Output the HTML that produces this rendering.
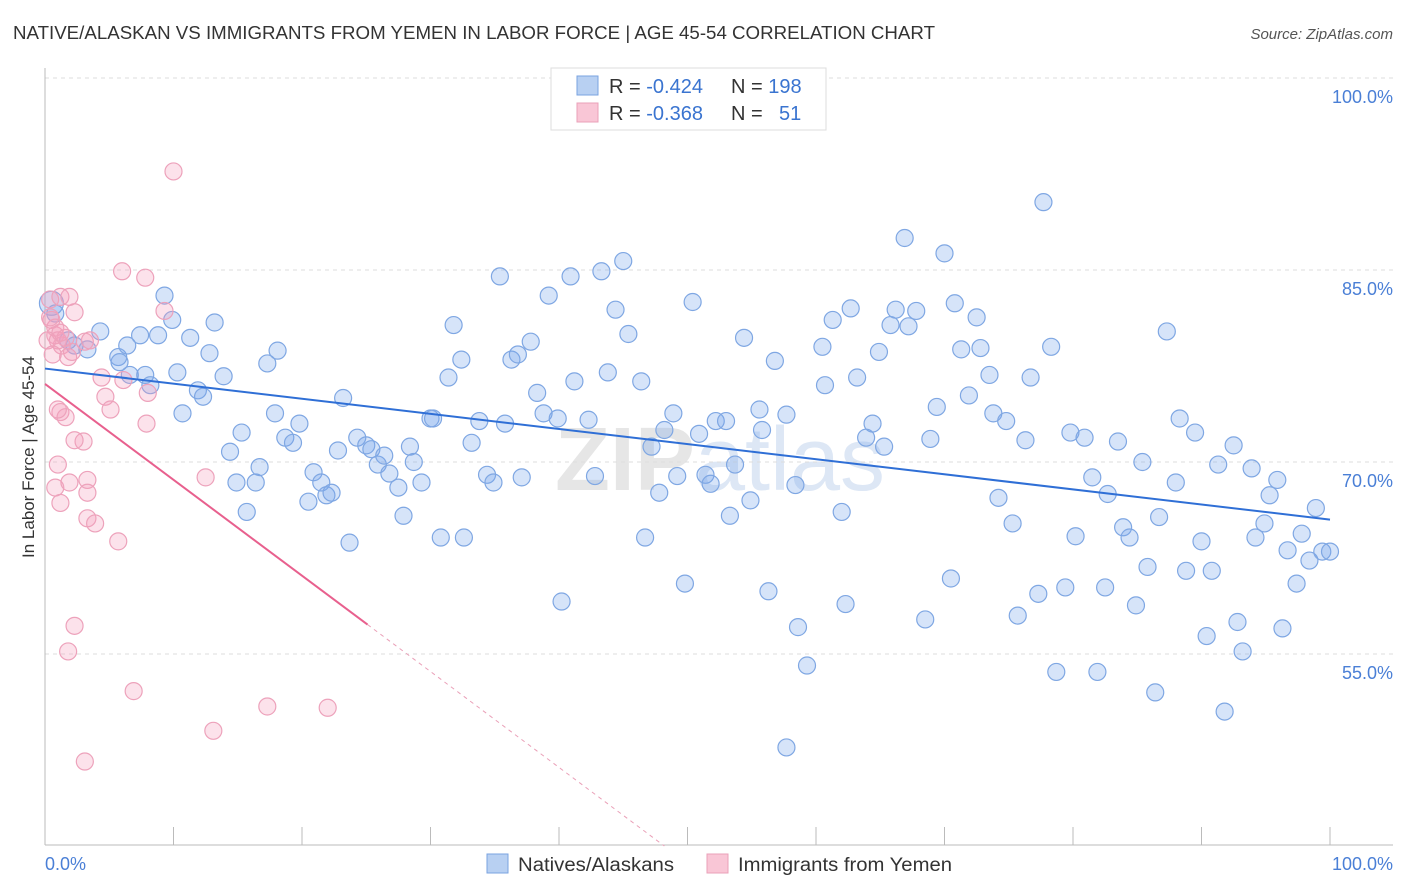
<!DOCTYPE html>
<html><head><meta charset="utf-8"><style>
body{margin:0;background:#fff;font-family:"Liberation Sans",sans-serif;}
svg{display:block}
</style></head><body>
<svg id="chart" width="1406" height="892">
<text x="13" y="39" font-size="18" fill="#333" textLength="922" lengthAdjust="spacingAndGlyphs">NATIVE/ALASKAN VS IMMIGRANTS FROM YEMEN IN LABOR FORCE | AGE 45-54 CORRELATION CHART</text>
<text x="1393" y="39" font-size="15" fill="#555" font-style="italic" text-anchor="end">Source: ZipAtlas.com</text>
<text x="720" y="490" font-size="90" fill="#e6e6e6" text-anchor="middle" font-weight="bold">ZIP<tspan fill="#dde7f5" font-weight="normal">atlas</tspan></text>
<g id="grid"></g><g id="pts"></g><g id="lines"></g>
<text transform="translate(34,457) rotate(-90)" font-size="17" fill="#333" text-anchor="middle">In Labor Force | Age 45-54</text>
<g>
<rect x="551" y="68" width="275" height="62" fill="#fff" stroke="#ddd"/>
<rect x="577" y="76" width="21" height="19" fill="#b8d0f2" stroke="#7aa3e0"/>
<rect x="577" y="103" width="21" height="19" fill="#f9c6d6" stroke="#eaa0b8"/>
<text x="609" y="93" font-size="20" fill="#333">R = <tspan fill="#3a74d0">-0.424</tspan><tspan x="731">N = </tspan><tspan fill="#3a74d0">198</tspan></text>
<text x="609" y="120" font-size="20" fill="#333">R = <tspan fill="#3a74d0">-0.368</tspan><tspan x="731">N = </tspan><tspan x="779" fill="#3a74d0">51</tspan></text>
</g>
<g>
<rect x="487" y="854" width="21" height="19" fill="#b8d0f2" stroke="#7aa3e0"/>
<text x="518" y="871" font-size="19" fill="#333" textLength="156" lengthAdjust="spacingAndGlyphs">Natives/Alaskans</text>
<rect x="707" y="854" width="21" height="19" fill="#f9c6d6" stroke="#eaa0b8"/>
<text x="738" y="871" font-size="19" fill="#333" textLength="214" lengthAdjust="spacingAndGlyphs">Immigrants from Yemen</text>
</g>
<text x="45" y="870" font-size="18" fill="#4a7fd6">0.0%</text>
<text x="1393" y="870" font-size="18" fill="#4a7fd6" text-anchor="end">100.0%</text>
</svg>
<script>
const yTicks=[100,85,70,55];
const yTickLabels=["100.0%","85.0%","70.0%","55.0%"];
const xTicks=[0,10,20,30,40,50,60,70,80,90,100];
const blueX=[.5,.8,1.8,2.3,3.3,4.3,5.7,5.8,6.4,6.6,7.4,7.8,8.2,8.8,9.3,9.9,10.3,10.7,11.3,11.9,12.3,12.8,13.2,13.9,14.4,14.9,15.3,15.7,16.4,16.7,17.3,17.9,18.1,18.7,19.3,19.8,20.5,20.9,21.5,21.9,22.3,22.8,23.2,23.7,24.3,25.0,25.4,25.9,26.4,26.8,27.5,27.9,28.4,28.7,29.3,30.0,30.2,30.8,31.4,31.8,32.4,32.6,33.2,33.8,34.4,34.9,35.4,35.8,36.3,36.8,37.1,37.8,38.3,38.8,39.2,39.9,40.2,40.9,41.2,42.3,42.8,43.3,43.8,44.4,45.0,45.4,46.4,46.7,47.2,47.8,48.2,48.9,49.2,49.8,50.4,50.9,51.4,51.8,52.2,53.0,53.3,53.7,54.4,54.9,55.6,55.8,56.3,56.8,57.7,57.7,58.4,58.6,59.3,60.5,60.7,61.3,62.0,62.3,62.7,63.2,63.9,64.4,64.9,65.3,65.8,66.2,66.9,67.2,67.8,68.5,68.9,69.4,70.0,70.5,70.8,71.3,71.9,72.5,72.8,73.5,73.8,74.2,74.8,75.3,75.7,76.3,76.7,77.3,77.7,78.3,78.7,79.4,79.8,80.2,80.9,81.5,81.9,82.5,82.7,83.5,83.9,84.4,84.9,85.4,85.8,86.4,86.7,87.3,88.0,88.3,88.8,89.5,90.0,90.4,90.8,91.3,91.8,92.5,92.8,93.2,93.9,94.2,94.9,95.3,95.9,96.3,96.7,97.4,97.8,98.4,98.9,99.4,100];
const blueY=[82.4,81.6,79.5,79.1,78.8,80.2,78.2,77.8,79.1,76.8,79.9,76.8,76.0,79.9,83.0,81.1,77.0,73.8,79.7,75.6,75.1,78.5,80.9,76.7,70.8,68.4,72.3,66.1,68.4,69.6,77.7,73.8,78.7,71.9,71.5,73.0,66.9,69.2,68.4,67.4,67.6,70.9,75.0,63.7,71.9,71.3,71.0,69.8,70.5,69.1,68.0,65.8,71.2,70.0,68.4,73.4,73.4,64.1,76.6,80.7,78.0,64.1,71.5,73.2,69.0,68.4,84.5,73.0,78.0,78.4,68.8,79.4,75.4,73.8,83.0,73.4,59.1,84.5,76.3,73.3,68.9,84.9,77.0,81.9,85.7,80.0,76.3,64.1,71.2,67.6,72.5,73.8,68.9,60.5,82.5,72.2,69.0,68.3,73.2,73.2,65.8,69.8,79.7,67.0,74.1,72.5,59.9,77.9,73.7,47.7,68.2,57.1,54.1,79.0,76.0,81.1,66.1,58.9,82.0,76.6,71.9,73.0,78.6,71.2,80.7,81.9,87.5,80.6,81.8,57.7,71.8,74.3,86.3,60.9,82.4,78.8,75.2,81.3,78.9,76.8,73.8,67.2,73.2,65.2,58.0,71.7,76.6,59.7,90.3,79.0,53.6,60.2,72.3,64.2,71.9,68.8,53.6,60.2,67.5,71.6,64.9,64.1,58.8,70.0,61.8,52.0,65.7,80.2,68.4,73.4,61.5,72.3,63.8,56.4,61.5,69.8,50.5,71.3,57.5,55.2,69.5,64.1,65.2,67.4,68.6,57.0,63.1,60.5,64.4,62.3,66.4,63.0,63.0];
const pinkX=[.4,.5,.8,1.2,1.3,1.8,2.1,2.3,1.9,.8,1.0,3.1,4.4,4.7,5.1,6.0,6.1,7.8,7.9,8.0,9.3,10.0,1.2,1.6,1.0,.8,1.2,1.9,3.0,3.3,3.3,3.3,3.9,5.7,2.3,1.8,6.9,12.5,13.1,17.3,22.0,3.1,.4,.2,.6,1.6,3.5,2.3,1.0,1.2];
const pinkY=[82.7,81.1,79.9,82.9,79.1,78.2,78.6,81.7,82.9,80.5,79.5,79.4,76.6,75.1,74.1,84.9,76.4,84.4,73.0,75.4,81.8,92.7,73.9,73.5,69.8,68.0,66.8,68.4,71.6,68.6,67.6,65.6,65.2,63.8,57.2,55.2,52.1,68.8,49.0,50.9,50.8,46.6,81.3,79.5,78.4,79.7,79.5,71.7,74.1,80.1];
const blueTrend=[77.3,65.5];
const pinkTrend=[76.1,57.3,25.1];

const NS="http://www.w3.org/2000/svg";
const X0=45,X1=1330,YTOP=78,SC=12.8;
const sx=v=>X0+(X1-X0)*v/100;
const sy=v=>YTOP+(100-v)*SC;
function mk(tag,attrs,parent){const e=document.createElementNS(NS,tag);for(const k in attrs)e.setAttribute(k,attrs[k]);parent.appendChild(e);return e;}
const grid=document.getElementById('grid');
yTicks.forEach((t,i)=>{
 const l=mk('line',{x1:45,x2:1393,y1:sy(t),y2:sy(t),stroke:'#ddd','stroke-dasharray':'4,4'},grid);
 
 
 const tx=mk('text',{x:1393,y:sy(t)+25,'font-size':18,fill:'#4a7fd6','text-anchor':'end'},grid);
 tx.textContent=yTickLabels[i];
 
 
});
const ax=mk('line',{x1:45,x2:45,y1:68,y2:845,stroke:'#bbb'},grid);


const bx=mk('line',{x1:45,x2:1393,y1:845,y2:845,stroke:'#bbb'},grid);


xTicks.forEach(t=>{
 const l=mk('line',{x1:sx(t),x2:sx(t),y1:827,y2:845,stroke:'#bbb'},grid);
 
 
});
const pts=document.getElementById('pts');
blueX.forEach((x,i)=>{
 const c=mk('circle',{cx:sx(x),cy:sy(blueY[i]),r:i===0?12:8.5,fill:'rgba(120,165,235,0.3)',stroke:'#7fa7e3','stroke-width':1.2},pts);
 
 
});
pinkX.forEach((x,i)=>{
 const c=mk('circle',{cx:sx(x),cy:sy(pinkY[i]),r:8.5,fill:'rgba(245,160,190,0.3)',stroke:'#eda2bb','stroke-width':1.2},pts);
 
 
});
const lines=document.getElementById('lines');
const bl=mk('line',{x1:sx(0),y1:sy(blueTrend[0]),x2:sx(100),y2:sy(blueTrend[1]),stroke:'#2f6fd6','stroke-width':2},lines);


const slope=(pinkTrend[1]-pinkTrend[0])/pinkTrend[2];
const pl=mk('line',{x1:sx(0),y1:sy(pinkTrend[0]),x2:sx(pinkTrend[2]),y2:sy(pinkTrend[1]),stroke:'#e8608e','stroke-width':2},lines);


const xEnd=(40-pinkTrend[0])/slope;
const pd=mk('line',{x1:sx(pinkTrend[2]),y1:sy(pinkTrend[1]),x2:sx(xEnd),y2:sy(40),stroke:'#eaa0b8','stroke-width':1,'stroke-dasharray':'4,4'},lines);


</script>
</body></html>
